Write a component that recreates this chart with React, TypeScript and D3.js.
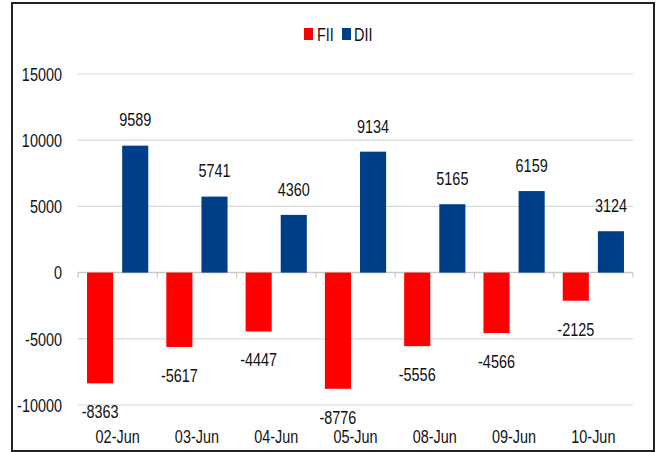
import React from "react";
import * as d3 from "d3";

const categories = ["02-Jun", "03-Jun", "04-Jun", "05-Jun", "08-Jun", "09-Jun", "10-Jun"];
const series = ["FII", "DII"];
const fiiValues = [-8363, -5617, -4447, -8776, -5556, -4566, -2125];
const diiValues = [9589, 5741, 4360, 9134, 5165, 6159, 3124];
const yTicks = [-10000, -5000, 0, 5000, 10000, 15000];
const colors: Record<string, string> = { FII: "#FF0000", DII: "#003F87" };

const W = 656;
const H = 452;
const FONT = "'Liberation Sans', Arial, sans-serif";

function T({ x, y, anchor = "middle", children }: { x: number; y: number; anchor?: string; children: React.ReactNode }) {
  return (
    <text
      transform={`translate(${x},${y}) scale(0.76,1)`}
      dy="0.36em"
      textAnchor={anchor as any}
      fontSize={19}
      fill="#111"
      fontFamily={FONT}
    >
      {children}
    </text>
  );
}

export default function App() {
  const x = d3.scaleBand<string>().domain(categories).range([78, 633]).padding(0);
  const xi = d3.scaleBand<string>().domain(series).range([0, x.bandwidth()]).paddingInner(0.257).paddingOuter(0.257);
  const y = d3.scaleLinear().domain([-10000, 15000]).range([405, 74]);
  const valuesBy: Record<string, number[]> = { FII: fiiValues, DII: diiValues };

  return (
    <svg width={W} height={H} style={{ position: "absolute", left: 0, top: 0, background: "#fff" }}>
      <rect x={0} y={0} width={W} height={H} fill="#fff" />
      {yTicks.map((t) => (
        <line key={t} x1={78} x2={633} y1={y(t)} y2={y(t)} stroke={t === 0 ? "#c8c8c8" : "#d9d9d9"} strokeWidth={t === 0 ? 1.5 : 1.2} />
      ))}
      {categories.map((c) => (
        <line key={c} x1={x(c)!} x2={x(c)!} y1={y(0)} y2={y(0) + 5} stroke="#c8c8c8" strokeWidth={1.2} />
      ))}
      <line x1={633} x2={633} y1={y(0)} y2={y(0) + 5} stroke="#c8c8c8" strokeWidth={1.2} />
      {yTicks.map((t) => (
        <T key={t} x={62} y={y(t)} anchor="end">{t}</T>
      ))}
      {series.map((s) =>
        categories.map((c, i) => {
          const v = valuesBy[s][i];
          const bx = x(c)! + xi(s)!;
          const top = Math.min(y(v), y(0));
          const h = Math.abs(y(v) - y(0));
          return <rect key={s + c} x={bx} y={top} width={xi.bandwidth()} height={h} fill={colors[s]} />;
        })
      )}
      {series.map((s) =>
        categories.map((c, i) => {
          const v = valuesBy[s][i];
          const cx = x(c)! + xi(s)! + xi.bandwidth() / 2;
          const ly = v >= 0 ? y(v) - 26 : y(v) + 28;
          return <T key={"l" + s + c} x={cx} y={ly}>{v}</T>;
        })
      )}
      {categories.map((c) => (
        <T key={"x" + c} x={x(c)! + x.bandwidth() / 2} y={436}>{c}</T>
      ))}
      <rect x={304} y={28} width={9} height={12} fill={colors.FII} />
      <T x={317} y={34} anchor="start">FII</T>
      <rect x={342} y={28} width={9} height={12} fill={colors.DII} />
      <T x={354} y={34} anchor="start">DII</T>
      <rect x={12} y={3} width={642} height={448} fill="none" stroke="#222" strokeWidth={2} />
    </svg>
  );
}
